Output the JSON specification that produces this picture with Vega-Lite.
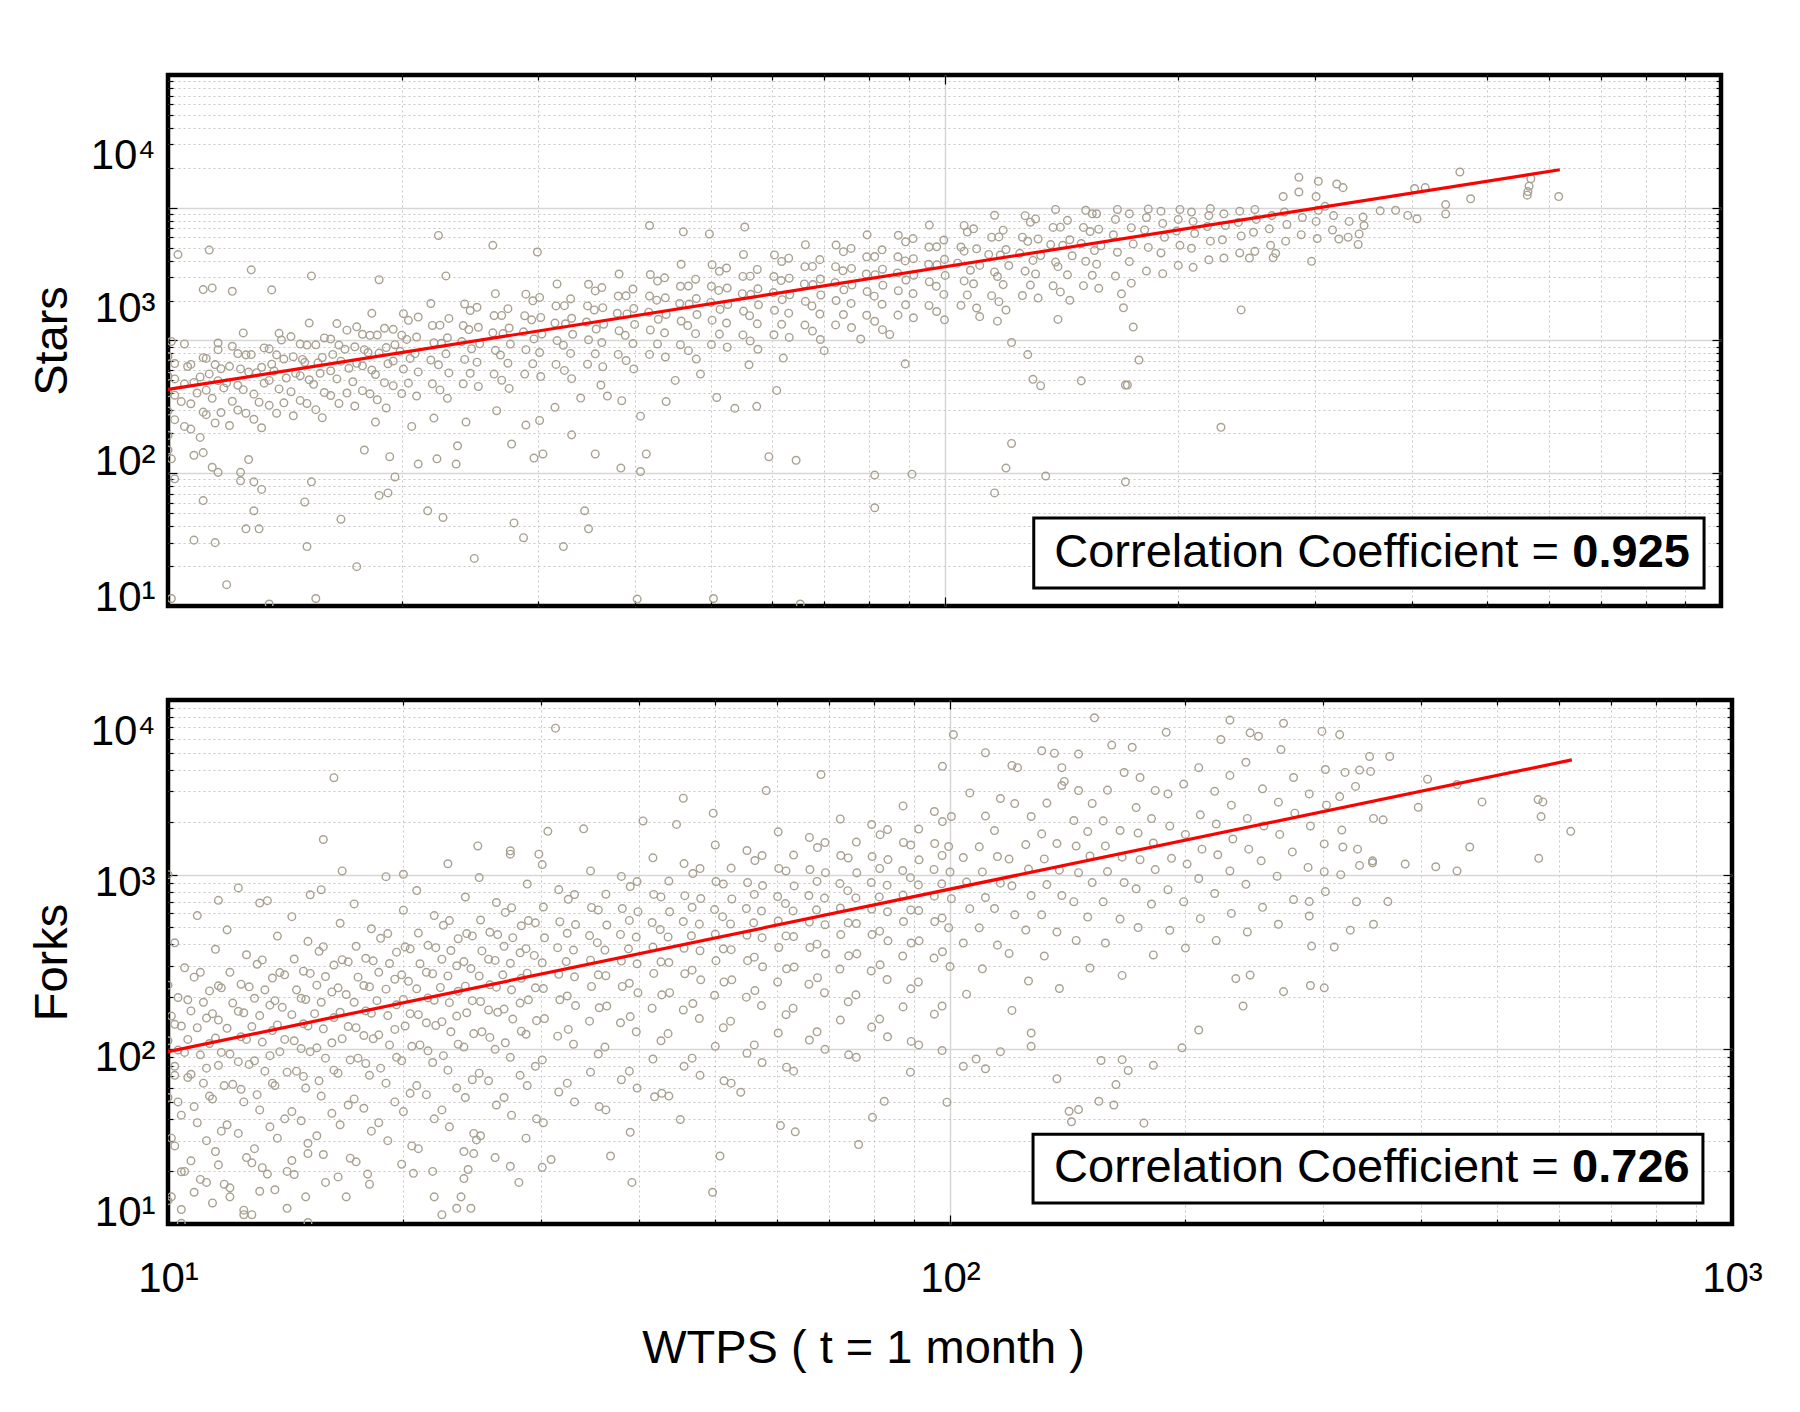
{
  "$schema": "https://vega.github.io/schema/vega-lite/v6.json",
  "background": "white",
  "padding": {"left": 25, "top": 72, "right": 5, "bottom": 5},
  "config": {
    "font": "Liberation Sans",
    "view": {"stroke": "black", "strokeWidth": 4.5},
    "axis": {"labelFontSize": 42, "titleFontSize": 47, "labelColor": "black", "titleColor": "black", "titleFontWeight": "normal", "domain": false}
  },
  "datasets": {
    "stars": [
      {"wtps":10.0,"stars":131},{"wtps":10.0,"stars":189},{"wtps":10.0,"stars":249},{"wtps":10.0,"stars":320},{"wtps":10.0,"stars":430},{"wtps":10.0,"stars":105},{"wtps":10.1,"stars":540},
      {"wtps":10.2,"stars":166},{"wtps":10.2,"stars":240},{"wtps":10.2,"stars":307},{"wtps":10.2,"stars":387},
      {"wtps":10.5,"stars":150},{"wtps":10.4,"stars":218},{"wtps":10.5,"stars":285},{"wtps":10.6,"stars":370},{"wtps":10.5,"stars":520},
      {"wtps":11.0,"stars":127},{"wtps":11.1,"stars":186},{"wtps":10.9,"stars":248},{"wtps":11.0,"stars":316},{"wtps":11.1,"stars":423},
      {"wtps":11.2,"stars":179},{"wtps":11.2,"stars":259},{"wtps":11.3,"stars":331},{"wtps":11.2,"stars":418},
      {"wtps":11.5,"stars":158},{"wtps":11.4,"stars":229},{"wtps":11.6,"stars":299},{"wtps":11.5,"stars":381},{"wtps":11.6,"stars":527},
      {"wtps":12.0,"stars":152},{"wtps":12.1,"stars":219},{"wtps":11.9,"stars":289},{"wtps":12.0,"stars":371},{"wtps":12.1,"stars":502},
      {"wtps":12.3,"stars":192},{"wtps":12.3,"stars":279},{"wtps":12.4,"stars":357},{"wtps":12.3,"stars":450},
      {"wtps":12.6,"stars":183},{"wtps":12.5,"stars":261},{"wtps":12.7,"stars":340},{"wtps":12.6,"stars":441},{"wtps":12.5,"stars":614},
      {"wtps":13.2,"stars":147},{"wtps":13.1,"stars":216},{"wtps":13.3,"stars":288},{"wtps":13.2,"stars":366},{"wtps":13.3,"stars":490},
      {"wtps":13.5,"stars":206},{"wtps":13.5,"stars":300},{"wtps":13.6,"stars":383},{"wtps":13.5,"stars":483},
      {"wtps":13.8,"stars":183},{"wtps":13.9,"stars":264},{"wtps":13.7,"stars":346},{"wtps":13.8,"stars":441},{"wtps":13.9,"stars":610},
      {"wtps":14.5,"stars":176},{"wtps":14.4,"stars":253},{"wtps":14.6,"stars":334},{"wtps":14.5,"stars":429},{"wtps":14.4,"stars":581},
      {"wtps":14.8,"stars":222},{"wtps":14.8,"stars":322},{"wtps":14.9,"stars":412},{"wtps":14.8,"stars":519},
      {"wtps":15.1,"stars":212},{"wtps":15.2,"stars":303},{"wtps":15.0,"stars":394},{"wtps":15.1,"stars":511},{"wtps":15.2,"stars":712},
      {"wtps":15.8,"stars":171},{"wtps":15.9,"stars":250},{"wtps":15.7,"stars":334},{"wtps":15.8,"stars":424},{"wtps":15.9,"stars":569},
      {"wtps":16.2,"stars":239},{"wtps":16.2,"stars":347},{"wtps":16.3,"stars":444},{"wtps":16.2,"stars":560},
      {"wtps":16.6,"stars":212},{"wtps":16.5,"stars":307},{"wtps":16.7,"stars":401},{"wtps":16.6,"stars":511},{"wtps":16.5,"stars":707},
      {"wtps":17.4,"stars":204},{"wtps":17.3,"stars":294},{"wtps":17.5,"stars":388},{"wtps":17.4,"stars":498},{"wtps":17.5,"stars":673},
      {"wtps":17.8,"stars":257},{"wtps":17.8,"stars":374},{"wtps":17.9,"stars":477},{"wtps":17.8,"stars":602},
      {"wtps":18.2,"stars":245},{"wtps":18.3,"stars":351},{"wtps":18.1,"stars":457},{"wtps":18.2,"stars":592},{"wtps":18.3,"stars":825},
      {"wtps":19.1,"stars":198},{"wtps":19.0,"stars":290},{"wtps":19.2,"stars":386},{"wtps":19.1,"stars":492},{"wtps":19.0,"stars":659},
      {"wtps":19.5,"stars":277},{"wtps":19.5,"stars":402},{"wtps":19.6,"stars":514},{"wtps":19.5,"stars":648},
      {"wtps":20.0,"stars":246},{"wtps":20.1,"stars":356},{"wtps":19.9,"stars":465},{"wtps":20.0,"stars":593},{"wtps":20.1,"stars":821},
      {"wtps":20.9,"stars":237},{"wtps":21.0,"stars":341},{"wtps":20.8,"stars":449},{"wtps":20.9,"stars":577},{"wtps":21.0,"stars":780},
      {"wtps":21.9,"stars":285},{"wtps":21.8,"stars":408},{"wtps":22.0,"stars":530},{"wtps":21.9,"stars":687},{"wtps":21.8,"stars":957},
      {"wtps":22.9,"stars":229},{"wtps":23.0,"stars":336},{"wtps":22.8,"stars":448},{"wtps":22.9,"stars":570},{"wtps":23.0,"stars":764},
      {"wtps":24.0,"stars":285},{"wtps":24.1,"stars":412},{"wtps":23.9,"stars":539},{"wtps":24.0,"stars":686},{"wtps":24.1,"stars":950},
      {"wtps":25.1,"stars":274},{"wtps":25.0,"stars":395},{"wtps":25.2,"stars":521},{"wtps":25.1,"stars":669},{"wtps":25.0,"stars":904},
      {"wtps":26.3,"stars":330},{"wtps":26.4,"stars":472},{"wtps":26.2,"stars":615},{"wtps":26.3,"stars":797},{"wtps":26.4,"stars":1110},
      {"wtps":27.5,"stars":266},{"wtps":27.4,"stars":389},{"wtps":27.6,"stars":519},{"wtps":27.5,"stars":661},{"wtps":27.4,"stars":885},
      {"wtps":28.8,"stars":330},{"wtps":28.9,"stars":477},{"wtps":28.7,"stars":624},{"wtps":28.8,"stars":796},{"wtps":28.9,"stars":1102},
      {"wtps":30.2,"stars":318},{"wtps":30.1,"stars":457},{"wtps":30.3,"stars":603},{"wtps":30.2,"stars":775},{"wtps":30.1,"stars":1048},
      {"wtps":31.6,"stars":382},{"wtps":31.7,"stars":547},{"wtps":31.5,"stars":712},{"wtps":31.6,"stars":923},{"wtps":31.7,"stars":1285},
      {"wtps":33.1,"stars":308},{"wtps":33.0,"stars":451},{"wtps":33.2,"stars":602},{"wtps":33.1,"stars":766},{"wtps":33.0,"stars":1026},
      {"wtps":34.7,"stars":383},{"wtps":34.8,"stars":554},{"wtps":34.6,"stars":724},{"wtps":34.7,"stars":923},{"wtps":34.8,"stars":1278},
      {"wtps":36.3,"stars":369},{"wtps":36.2,"stars":531},{"wtps":36.4,"stars":700},{"wtps":36.3,"stars":899},{"wtps":36.2,"stars":1216},
      {"wtps":38.0,"stars":444},{"wtps":38.1,"stars":635},{"wtps":37.9,"stars":826},{"wtps":38.0,"stars":1071},{"wtps":38.1,"stars":1492},
      {"wtps":39.8,"stars":357},{"wtps":39.7,"stars":523},{"wtps":39.9,"stars":698},{"wtps":39.8,"stars":888},{"wtps":39.7,"stars":1190},
      {"wtps":41.7,"stars":444},{"wtps":41.8,"stars":642},{"wtps":41.6,"stars":839},{"wtps":41.7,"stars":1070},{"wtps":41.8,"stars":1481},
      {"wtps":43.7,"stars":427},{"wtps":43.6,"stars":615},{"wtps":43.8,"stars":811},{"wtps":43.7,"stars":1042},{"wtps":43.6,"stars":1409},
      {"wtps":45.7,"stars":514},{"wtps":45.8,"stars":735},{"wtps":45.6,"stars":957},{"wtps":45.7,"stars":1240},{"wtps":45.8,"stars":1728},
      {"wtps":47.9,"stars":414},{"wtps":47.8,"stars":607},{"wtps":48.0,"stars":810},{"wtps":47.9,"stars":1030},{"wtps":47.8,"stars":1380},
      {"wtps":50.1,"stars":515},{"wtps":50.2,"stars":744},{"wtps":50.0,"stars":973},{"wtps":50.1,"stars":1240},{"wtps":50.2,"stars":1717},
      {"wtps":52.5,"stars":495},{"wtps":52.4,"stars":713},{"wtps":52.6,"stars":941},{"wtps":52.5,"stars":1208},{"wtps":52.4,"stars":1634},
      {"wtps":55.0,"stars":596},{"wtps":55.1,"stars":853},{"wtps":54.9,"stars":1110},{"wtps":55.0,"stars":1439},{"wtps":55.1,"stars":2005},
      {"wtps":57.5,"stars":480},{"wtps":57.4,"stars":704},{"wtps":57.6,"stars":938},{"wtps":57.5,"stars":1194},{"wtps":57.4,"stars":1599},
      {"wtps":60.3,"stars":597},{"wtps":60.4,"stars":863},{"wtps":60.2,"stars":1128},{"wtps":60.3,"stars":1438},{"wtps":60.4,"stars":1991},
      {"wtps":63.1,"stars":574},{"wtps":63.0,"stars":827},{"wtps":63.2,"stars":1091},{"wtps":63.1,"stars":1401},{"wtps":63.0,"stars":1894},
      {"wtps":66.1,"stars":691},{"wtps":66.2,"stars":988},{"wtps":66.0,"stars":1286},{"wtps":66.1,"stars":1667},{"wtps":66.2,"stars":2322},
      {"wtps":69.2,"stars":556},{"wtps":69.1,"stars":816},{"wtps":69.3,"stars":1088},{"wtps":69.2,"stars":1384},{"wtps":69.1,"stars":1854},
      {"wtps":72.4,"stars":693},{"wtps":72.5,"stars":1001},{"wtps":72.3,"stars":1309},{"wtps":72.4,"stars":1668},{"wtps":72.5,"stars":2309},
      {"wtps":75.9,"stars":666},{"wtps":75.8,"stars":958},{"wtps":76.0,"stars":1264},{"wtps":75.9,"stars":1624},{"wtps":75.8,"stars":2196},
      {"wtps":79.4,"stars":801},{"wtps":79.5,"stars":1146},{"wtps":79.3,"stars":1492},{"wtps":79.4,"stars":1933},{"wtps":79.5,"stars":2693},
      {"wtps":83.2,"stars":645},{"wtps":83.1,"stars":946},{"wtps":83.3,"stars":1261},{"wtps":83.2,"stars":1605},{"wtps":83.1,"stars":2150},
      {"wtps":87.1,"stars":803},{"wtps":87.2,"stars":1160},{"wtps":87.0,"stars":1517},{"wtps":87.1,"stars":1933},{"wtps":87.2,"stars":2677},
      {"wtps":91.2,"stars":772},{"wtps":91.1,"stars":1111},{"wtps":91.3,"stars":1466},{"wtps":91.2,"stars":1882},{"wtps":91.1,"stars":2546},
      {"wtps":95.5,"stars":929},{"wtps":95.6,"stars":1329},{"wtps":95.4,"stars":1729},{"wtps":95.5,"stars":2241},{"wtps":95.6,"stars":3122},
      {"wtps":100,"stars":748},{"wtps":99.8,"stars":1097},{"wtps":100.2,"stars":1462},{"wtps":100,"stars":1861},{"wtps":99.8,"stars":2493},
      {"wtps":105,"stars":931},{"wtps":106,"stars":1345},{"wtps":104,"stars":1758},{"wtps":105,"stars":2241},{"wtps":106,"stars":3103},
      {"wtps":110,"stars":894},{"wtps":109,"stars":1288},{"wtps":111,"stars":1700},{"wtps":110,"stars":2183},{"wtps":109,"stars":2952},
      {"wtps":115,"stars":1077},{"wtps":116,"stars":1541},{"wtps":114,"stars":2006},{"wtps":115,"stars":2600},{"wtps":116,"stars":3621},
      {"wtps":120,"stars":867},{"wtps":119,"stars":1272},{"wtps":121,"stars":1696},{"wtps":120,"stars":2158},{"wtps":119,"stars":2891},
      {"wtps":126,"stars":1079},{"wtps":127,"stars":1559},{"wtps":125,"stars":2039},{"wtps":126,"stars":2599},{"wtps":127,"stars":3598},
      {"wtps":132,"stars":1038},{"wtps":131,"stars":1494},{"wtps":133,"stars":1972},{"wtps":132,"stars":2532},{"wtps":131,"stars":3424},
      {"wtps":138,"stars":1249},{"wtps":139,"stars":1787},{"wtps":137,"stars":2325},{"wtps":138,"stars":3014},{"wtps":139,"stars":3950},
      {"wtps":145,"stars":1005},{"wtps":144,"stars":1474},{"wtps":146,"stars":1966},{"wtps":145,"stars":2502},{"wtps":144,"stars":3351},
      {"wtps":151,"stars":1252},{"wtps":152,"stars":1808},{"wtps":150,"stars":2364},{"wtps":151,"stars":3013},{"wtps":152,"stars":3900},
      {"wtps":158,"stars":1203},{"wtps":157,"stars":1732},{"wtps":159,"stars":2285},{"wtps":158,"stars":2934},{"wtps":157,"stars":3700},
      {"wtps":166,"stars":1448},{"wtps":167,"stars":2072},{"wtps":165,"stars":2696},{"wtps":166,"stars":3400},{"wtps":167,"stars":3950},
      {"wtps":174,"stars":1300},{"wtps":173,"stars":1800},{"wtps":175,"stars":2350},{"wtps":174,"stars":3000},{"wtps":173,"stars":3700},
      {"wtps":182,"stars":1560},{"wtps":183,"stars":2230},{"wtps":181,"stars":2900},{"wtps":182,"stars":3500},{"wtps":183,"stars":3980},
      {"wtps":191,"stars":1500},{"wtps":190,"stars":2050},{"wtps":192,"stars":2600},{"wtps":191,"stars":3200},{"wtps":190,"stars":3850},
      {"wtps":200,"stars":1700},{"wtps":201,"stars":2300},{"wtps":199,"stars":2850},{"wtps":200,"stars":3400},{"wtps":201,"stars":3950},
      {"wtps":209,"stars":1650},{"wtps":208,"stars":2200},{"wtps":210,"stars":2750},{"wtps":209,"stars":3300},{"wtps":208,"stars":3800},
      {"wtps":219,"stars":1850},{"wtps":220,"stars":2450},{"wtps":218,"stars":3050},{"wtps":219,"stars":3600},{"wtps":220,"stars":4000},
      {"wtps":229,"stars":1900},{"wtps":228,"stars":2500},{"wtps":230,"stars":3100},{"wtps":229,"stars":3700},
      {"wtps":240,"stars":2050},{"wtps":241,"stars":2650},{"wtps":239,"stars":3250},{"wtps":240,"stars":3850},
      {"wtps":251,"stars":2100},{"wtps":250,"stars":2800},{"wtps":252,"stars":3400},{"wtps":251,"stars":3950},
      {"wtps":263,"stars":2300},{"wtps":262,"stars":2950},{"wtps":264,"stars":3600},
      {"wtps":275,"stars":2450},{"wtps":276,"stars":3150},{"wtps":274,"stars":3800},
      {"wtps":288,"stars":2700},{"wtps":289,"stars":3500},
      {"wtps":302,"stars":2550},{"wtps":301,"stars":3300},{"wtps":303,"stars":3900},
      {"wtps":316,"stars":2900},{"wtps":317,"stars":3600},
      {"wtps":331,"stars":2600},{"wtps":332,"stars":3300},
      {"wtps":347,"stars":3100},
      {"wtps":10.7,"stars":144},{"wtps":10.7,"stars":211},{"wtps":10.8,"stars":291},{"wtps":10.7,"stars":382},
      {"wtps":11.7,"stars":185},{"wtps":11.8,"stars":268},{"wtps":11.7,"stars":358},{"wtps":11.6,"stars":477},
      {"wtps":12.9,"stars":167},{"wtps":12.9,"stars":244},{"wtps":13.0,"stars":337},{"wtps":12.8,"stars":443},
      {"wtps":14.1,"stars":214},{"wtps":14.2,"stars":311},{"wtps":14.1,"stars":414},{"wtps":14.0,"stars":552},
      {"wtps":15.5,"stars":193},{"wtps":15.4,"stars":283},{"wtps":15.6,"stars":391},{"wtps":15.5,"stars":513},
      {"wtps":17.0,"stars":248},{"wtps":17.1,"stars":360},{"wtps":16.9,"stars":480},{"wtps":17.0,"stars":640},
      {"wtps":18.6,"stars":224},{"wtps":18.5,"stars":328},{"wtps":18.7,"stars":453},{"wtps":18.6,"stars":595},
      {"wtps":20.4,"stars":288},{"wtps":20.5,"stars":418},{"wtps":20.3,"stars":557},{"wtps":20.4,"stars":742},
      {"wtps":22.4,"stars":260},{"wtps":22.3,"stars":380},{"wtps":22.5,"stars":525},{"wtps":22.4,"stars":690},
      {"wtps":24.5,"stars":334},{"wtps":24.6,"stars":484},{"wtps":24.4,"stars":646},{"wtps":24.5,"stars":861},
      {"wtps":26.9,"stars":301},{"wtps":26.8,"stars":440},{"wtps":27.0,"stars":608},{"wtps":26.9,"stars":799},
      {"wtps":29.5,"stars":386},{"wtps":29.6,"stars":561},{"wtps":29.4,"stars":748},{"wtps":29.5,"stars":997},
      {"wtps":32.4,"stars":349},{"wtps":32.3,"stars":510},{"wtps":32.5,"stars":705},{"wtps":32.4,"stars":926},
      {"wtps":35.5,"stars":448},{"wtps":35.6,"stars":651},{"wtps":35.4,"stars":868},{"wtps":35.5,"stars":1157},
      {"wtps":38.9,"stars":405},{"wtps":38.8,"stars":592},{"wtps":39.0,"stars":818},{"wtps":38.9,"stars":1075},
      {"wtps":42.7,"stars":520},{"wtps":42.8,"stars":754},{"wtps":42.6,"stars":1006},{"wtps":42.7,"stars":1341},
      {"wtps":46.8,"stars":470},{"wtps":46.7,"stars":686},{"wtps":46.9,"stars":948},{"wtps":46.8,"stars":1246},
      {"wtps":51.3,"stars":603},{"wtps":51.4,"stars":875},{"wtps":51.2,"stars":1166},{"wtps":51.3,"stars":1555},
      {"wtps":56.2,"stars":544},{"wtps":56.1,"stars":796},{"wtps":56.3,"stars":1099},{"wtps":56.2,"stars":1445},
      {"wtps":61.7,"stars":699},{"wtps":61.8,"stars":1014},{"wtps":61.6,"stars":1352},{"wtps":61.7,"stars":1803},
      {"wtps":67.6,"stars":631},{"wtps":67.5,"stars":922},{"wtps":67.7,"stars":1274},{"wtps":67.6,"stars":1674},
      {"wtps":74.1,"stars":810},{"wtps":74.2,"stars":1176},{"wtps":74.0,"stars":1568},{"wtps":74.1,"stars":2091},
      {"wtps":81.3,"stars":732},{"wtps":81.2,"stars":1069},{"wtps":81.4,"stars":1477},{"wtps":81.3,"stars":1942},
      {"wtps":89.1,"stars":939},{"wtps":89.2,"stars":1364},{"wtps":89.0,"stars":1818},{"wtps":89.1,"stars":2424},
      {"wtps":97.7,"stars":848},{"wtps":97.6,"stars":1240},{"wtps":97.8,"stars":1713},{"wtps":97.7,"stars":2251},
      {"wtps":107,"stars":1089},{"wtps":108,"stars":1580},{"wtps":106,"stars":2107},{"wtps":107,"stars":2810},
      {"wtps":117.5,"stars":984},{"wtps":117,"stars":1438},{"wtps":118,"stars":1987},{"wtps":117.5,"stars":2611},
      {"wtps":129,"stars":1263},{"wtps":130,"stars":1833},{"wtps":128,"stars":2444},{"wtps":129,"stars":3259},
      {"wtps":141,"stars":1140},{"wtps":140,"stars":1667},{"wtps":142,"stars":2303},{"wtps":141,"stars":3026},
      {"wtps":155,"stars":1464},{"wtps":156,"stars":2125},{"wtps":154,"stars":2833},{"wtps":155,"stars":3700},
      {"wtps":10.3,"stars":2000},{"wtps":11.3,"stars":2140},{"wtps":22.3,"stars":2670},{"wtps":26.2,"stars":2300},{"wtps":29.9,"stars":2080},{"wtps":41.7,"stars":3100},{"wtps":46.1,"stars":2820},{"wtps":49.8,"stars":2730},{"wtps":55.3,"stars":3030},{"wtps":12.8,"stars":1590},{"wtps":11.1,"stars":1180},{"wtps":11.4,"stars":1210},{"wtps":12.1,"stars":1150},{"wtps":15.3,"stars":1450},{"wtps":18.7,"stars":1370},{"wtps":22.8,"stars":1450},{"wtps":13.6,"stars":1175},
      {"wtps":10.1,"stars":92},{"wtps":10.2,"stars":68},{"wtps":10.8,"stars":97},{"wtps":11.1,"stars":101},{"wtps":11.4,"stars":81},{"wtps":11.6,"stars":75},{"wtps":12.4,"stars":75},{"wtps":12.4,"stars":66},{"wtps":12.7,"stars":91},{"wtps":12.9,"stars":65},{"wtps":13.2,"stars":58},{"wtps":11.1,"stars":49},{"wtps":12.9,"stars":42},{"wtps":10.8,"stars":27},{"wtps":11.5,"stars":26},{"wtps":12.6,"stars":32},{"wtps":13.1,"stars":32},{"wtps":11.9,"stars":13.8},{"wtps":10.1,"stars":11.2},{"wtps":13.5,"stars":10.3},{"wtps":15.5,"stars":11.2},{"wtps":15.3,"stars":65},{"wtps":15.0,"stars":48},{"wtps":15.1,"stars":24.5},{"wtps":16.7,"stars":37},{"wtps":17.5,"stars":18.1},{"wtps":17.9,"stars":105},{"wtps":19.3,"stars":95},{"wtps":19.6,"stars":70},{"wtps":18.7,"stars":53},{"wtps":19.2,"stars":55},{"wtps":21.0,"stars":85},{"wtps":21.6,"stars":42},{"wtps":22.2,"stars":92},{"wtps":22.6,"stars":38},{"wtps":23.5,"stars":85},{"wtps":23.6,"stars":112},{"wtps":24.8,"stars":20.5},{"wtps":27.7,"stars":115},{"wtps":27.9,"stars":35},{"wtps":28.7,"stars":28},{"wtps":29.6,"stars":93},{"wtps":30.4,"stars":99},{"wtps":32.3,"stars":24.5},{"wtps":33.1,"stars":132},{"wtps":34.4,"stars":42},{"wtps":34.8,"stars":32},{"wtps":35.5,"stars":99},{"wtps":38.3,"stars":80},{"wtps":40.6,"stars":76},{"wtps":41.3,"stars":99},{"wtps":40.2,"stars":11.1},{"wtps":50.4,"stars":11.2},{"wtps":65.2,"stars":10.3},{"wtps":59.4,"stars":95},{"wtps":64.4,"stars":90},{"wtps":81.3,"stars":72},{"wtps":81.3,"stars":44},{"wtps":50.9,"stars":232},{"wtps":53.7,"stars":197},{"wtps":57.3,"stars":203},{"wtps":60.8,"stars":258},{"wtps":43.8,"stars":218},{"wtps":38.4,"stars":221},{"wtps":40.6,"stars":175},{"wtps":28.9,"stars":153},{"wtps":30.1,"stars":164},{"wtps":36.1,"stars":280},{"wtps":36.8,"stars":237},
      {"wtps":18.5,"stars":160},{"wtps":20.6,"stars":150},{"wtps":22.0,"stars":170},{"wtps":24.2,"stars":160},{"wtps":26.5,"stars":190},{"wtps":31.5,"stars":200},{"wtps":34.0,"stars":230},{"wtps":45.0,"stars":300},{"wtps":48.5,"stars":330},{"wtps":56,"stars":380},{"wtps":62,"stars":420},{"wtps":70,"stars":470},{"wtps":78,"stars":560},{"wtps":85,"stars":600},
      {"wtps":89.0,"stars":385},{"wtps":90.8,"stars":73},{"wtps":111,"stars":785},{"wtps":117,"stars":733},{"wtps":140,"stars":753},{"wtps":122,"stars":531},{"wtps":128,"stars":443},{"wtps":130,"stars":305},{"wtps":133,"stars":277},{"wtps":150,"stars":298},{"wtps":171,"stars":280},{"wtps":172,"stars":280},{"wtps":178,"stars":408},{"wtps":175,"stars":671},{"wtps":170,"stars":897},{"wtps":169,"stars":1107},{"wtps":241,"stars":869},{"wtps":297,"stars":1807},{"wtps":227,"stars":148},{"wtps":122,"stars":116},{"wtps":120,"stars":80},{"wtps":135,"stars":71},{"wtps":116,"stars":55},{"wtps":171,"stars":65},
      {"wtps":286,"stars":6410},{"wtps":303,"stars":6040},{"wtps":320,"stars":5800},{"wtps":326,"stars":5490},{"wtps":273,"stars":4800},{"wtps":286,"stars":5140},{"wtps":301,"stars":4800},{"wtps":309,"stars":4140},{"wtps":341,"stars":2330},{"wtps":322,"stars":2530},{"wtps":342,"stars":2730},{"wtps":346,"stars":3520},{"wtps":364,"stars":3870},{"wtps":381,"stars":3900},{"wtps":395,"stars":3610},{"wtps":406,"stars":3430},{"wtps":403,"stars":5420},{"wtps":416,"stars":5490},{"wtps":461,"stars":6950},{"wtps":442,"stars":4250},{"wtps":442,"stars":3690},{"wtps":476,"stars":4640},{"wtps":569,"stars":6280},{"wtps":566,"stars":5610},{"wtps":564,"stars":5170},{"wtps":563,"stars":4900},{"wtps":618,"stars":4800},{"wtps":265,"stars":1910},{"wtps":247,"stars":1900},{"wtps":267,"stars":2040}
    ],
    "forks": [
      {"wtps":10.0,"forks":13.6},{"wtps":10.1,"forks":31},{"wtps":10.0,"forks":53},{"wtps":10.2,"forks":80},{"wtps":10.0,"forks":112},{"wtps":10.1,"forks":155},{"wtps":10.0,"forks":233},{"wtps":10.2,"forks":407},
      {"wtps":10.2,"forks":28},{"wtps":10.3,"forks":50},{"wtps":10.2,"forks":71},{"wtps":10.3,"forks":99},{"wtps":10.2,"forks":139},{"wtps":10.3,"forks":198},
      {"wtps":10.5,"forks":20},{"wtps":10.4,"forks":42},{"wtps":10.6,"forks":69},{"wtps":10.5,"forks":96},{"wtps":10.4,"forks":136},{"wtps":10.6,"forks":192},{"wtps":10.5,"forks":293},{"wtps":10.4,"forks":10.1},
      {"wtps":11.0,"forks":18},{"wtps":10.9,"forks":38},{"wtps":11.1,"forks":64},{"wtps":11.0,"forks":93},{"wtps":10.9,"forks":133},{"wtps":11.1,"forks":186},{"wtps":11.0,"forks":276},{"wtps":10.9,"forks":583},
      {"wtps":11.2,"forks":30},{"wtps":11.3,"forks":54},{"wtps":11.2,"forks":78},{"wtps":11.3,"forks":108},{"wtps":11.2,"forks":151},{"wtps":11.3,"forks":216},
      {"wtps":11.5,"forks":26},{"wtps":11.4,"forks":52},{"wtps":11.6,"forks":81},{"wtps":11.5,"forks":116},{"wtps":11.4,"forks":160},{"wtps":11.6,"forks":231},{"wtps":11.5,"forks":374},{"wtps":11.4,"forks":13.2},
      {"wtps":12.0,"forks":16.1},{"wtps":11.9,"forks":37},{"wtps":12.1,"forks":63},{"wtps":12.0,"forks":94},{"wtps":11.9,"forks":132},{"wtps":12.1,"forks":184},{"wtps":12.0,"forks":276},{"wtps":11.9,"forks":483},
      {"wtps":12.3,"forks":33},{"wtps":12.4,"forks":59},{"wtps":12.3,"forks":85},{"wtps":12.4,"forks":118},{"wtps":12.3,"forks":165},{"wtps":12.4,"forks":236},
      {"wtps":12.6,"forks":24},{"wtps":12.5,"forks":50},{"wtps":12.7,"forks":82},{"wtps":12.6,"forks":114},{"wtps":12.5,"forks":162},{"wtps":12.7,"forks":228},{"wtps":12.6,"forks":348},{"wtps":12.5,"forks":12},
      {"wtps":13.2,"forks":21},{"wtps":13.1,"forks":45},{"wtps":13.3,"forks":75},{"wtps":13.2,"forks":110},{"wtps":13.1,"forks":156},{"wtps":13.3,"forks":219},{"wtps":13.2,"forks":325},{"wtps":13.1,"forks":688},
      {"wtps":13.5,"forks":36},{"wtps":13.6,"forks":64},{"wtps":13.5,"forks":92},{"wtps":13.6,"forks":128},{"wtps":13.5,"forks":179},{"wtps":13.6,"forks":256},
      {"wtps":13.8,"forks":31},{"wtps":13.7,"forks":62},{"wtps":13.9,"forks":97},{"wtps":13.8,"forks":138},{"wtps":13.7,"forks":190},{"wtps":13.9,"forks":275},{"wtps":13.8,"forks":445},{"wtps":13.7,"forks":15.7},
      {"wtps":14.5,"forks":19.2},{"wtps":14.4,"forks":44},{"wtps":14.6,"forks":75},{"wtps":14.5,"forks":112},{"wtps":14.4,"forks":158},{"wtps":14.6,"forks":219},{"wtps":14.5,"forks":329},{"wtps":14.4,"forks":575},
      {"wtps":14.8,"forks":39},{"wtps":14.9,"forks":70},{"wtps":14.8,"forks":101},{"wtps":14.9,"forks":140},{"wtps":14.8,"forks":196},{"wtps":14.9,"forks":280},
      {"wtps":15.1,"forks":29},{"wtps":15.0,"forks":60},{"wtps":15.2,"forks":97},{"wtps":15.1,"forks":136},{"wtps":15.0,"forks":193},{"wtps":15.2,"forks":272},{"wtps":15.1,"forks":415},{"wtps":15.0,"forks":14.3},
      {"wtps":15.8,"forks":25},{"wtps":15.7,"forks":54},{"wtps":15.9,"forks":89},{"wtps":15.8,"forks":131},{"wtps":15.7,"forks":186},{"wtps":15.9,"forks":261},{"wtps":15.8,"forks":387},{"wtps":15.7,"forks":820},
      {"wtps":16.2,"forks":43},{"wtps":16.3,"forks":76},{"wtps":16.2,"forks":109},{"wtps":16.3,"forks":152},{"wtps":16.2,"forks":213},{"wtps":16.3,"forks":304},
      {"wtps":16.6,"forks":37},{"wtps":16.5,"forks":73},{"wtps":16.7,"forks":115},{"wtps":16.6,"forks":163},{"wtps":16.5,"forks":225},{"wtps":16.7,"forks":326},{"wtps":16.6,"forks":527},{"wtps":16.5,"forks":18.6},
      {"wtps":17.4,"forks":22.7},{"wtps":17.3,"forks":52},{"wtps":17.5,"forks":89},{"wtps":17.4,"forks":133},{"wtps":17.3,"forks":186},{"wtps":17.5,"forks":259},{"wtps":17.4,"forks":389},{"wtps":17.3,"forks":680},
      {"wtps":17.8,"forks":46},{"wtps":17.9,"forks":83},{"wtps":17.8,"forks":120},{"wtps":17.9,"forks":166},{"wtps":17.8,"forks":232},{"wtps":17.9,"forks":332},
      {"wtps":18.2,"forks":34},{"wtps":18.1,"forks":71},{"wtps":18.3,"forks":115},{"wtps":18.2,"forks":161},{"wtps":18.1,"forks":228},{"wtps":18.3,"forks":321},{"wtps":18.2,"forks":490},{"wtps":18.1,"forks":16.9},
      {"wtps":19.1,"forks":30},{"wtps":19.0,"forks":64},{"wtps":19.2,"forks":106},{"wtps":19.1,"forks":156},{"wtps":19.0,"forks":221},{"wtps":19.2,"forks":310},{"wtps":19.1,"forks":460},{"wtps":19.0,"forks":974},
      {"wtps":19.5,"forks":50},{"wtps":19.6,"forks":90},{"wtps":19.5,"forks":130},{"wtps":19.6,"forks":180},{"wtps":19.5,"forks":252},{"wtps":19.6,"forks":360},
      {"wtps":20.0,"forks":44},{"wtps":19.9,"forks":86},{"wtps":20.1,"forks":136},{"wtps":20.0,"forks":193},{"wtps":19.9,"forks":267},{"wtps":20.1,"forks":386},{"wtps":20.0,"forks":626},{"wtps":19.9,"forks":22},
      {"wtps":20.9,"forks":27},{"wtps":20.8,"forks":62},{"wtps":21.0,"forks":106},{"wtps":20.9,"forks":158},{"wtps":20.8,"forks":222},{"wtps":21.0,"forks":309},{"wtps":20.9,"forks":463},{"wtps":20.8,"forks":811},
      {"wtps":21.4,"forks":55},{"wtps":21.5,"forks":98},{"wtps":21.4,"forks":142},{"wtps":21.5,"forks":197},{"wtps":21.4,"forks":276},{"wtps":21.5,"forks":394},
      {"wtps":21.9,"forks":40},{"wtps":21.8,"forks":84},{"wtps":22.0,"forks":137},{"wtps":21.9,"forks":191},{"wtps":21.8,"forks":271},{"wtps":22.0,"forks":382},{"wtps":21.9,"forks":583},{"wtps":21.8,"forks":20},
      {"wtps":22.9,"forks":36},{"wtps":22.8,"forks":76},{"wtps":23.0,"forks":126},{"wtps":22.9,"forks":185},{"wtps":22.8,"forks":263},{"wtps":23.0,"forks":368},{"wtps":22.9,"forks":546},{"wtps":22.8,"forks":1155},
      {"wtps":23.4,"forks":60},{"wtps":23.5,"forks":107},{"wtps":23.4,"forks":155},{"wtps":23.5,"forks":215},{"wtps":23.4,"forks":301},{"wtps":23.5,"forks":430},
      {"wtps":24.0,"forks":53},{"wtps":23.9,"forks":103},{"wtps":24.1,"forks":162},{"wtps":24.0,"forks":230},{"wtps":23.9,"forks":318},{"wtps":24.1,"forks":460},{"wtps":24.0,"forks":745},{"wtps":23.9,"forks":26},
      {"wtps":25.1,"forks":32},{"wtps":25.0,"forks":73},{"wtps":25.2,"forks":126},{"wtps":25.1,"forks":188},{"wtps":25.0,"forks":263},{"wtps":25.2,"forks":366},{"wtps":25.1,"forks":550},{"wtps":25.0,"forks":962},
      {"wtps":25.7,"forks":66},{"wtps":25.8,"forks":117},{"wtps":25.7,"forks":168},{"wtps":25.8,"forks":234},{"wtps":25.7,"forks":328},{"wtps":25.8,"forks":468},
      {"wtps":26.3,"forks":48},{"wtps":26.2,"forks":100},{"wtps":26.4,"forks":163},{"wtps":26.3,"forks":227},{"wtps":26.2,"forks":323},{"wtps":26.4,"forks":454},{"wtps":26.3,"forks":693},{"wtps":26.2,"forks":24},
      {"wtps":27.5,"forks":42},{"wtps":27.4,"forks":90},{"wtps":27.6,"forks":149},{"wtps":27.5,"forks":219},{"wtps":27.4,"forks":311},{"wtps":27.6,"forks":436},{"wtps":27.5,"forks":647},{"wtps":27.4,"forks":1370},
      {"wtps":28.2,"forks":71},{"wtps":28.3,"forks":127},{"wtps":28.2,"forks":184},{"wtps":28.3,"forks":255},{"wtps":28.2,"forks":357},{"wtps":28.3,"forks":510},
      {"wtps":28.8,"forks":62},{"wtps":28.7,"forks":122},{"wtps":28.9,"forks":192},{"wtps":28.8,"forks":273},{"wtps":28.7,"forks":377},{"wtps":28.9,"forks":546},{"wtps":28.8,"forks":884},{"wtps":28.7,"forks":31},
      {"wtps":30.2,"forks":38},{"wtps":30.1,"forks":87},{"wtps":30.3,"forks":150},{"wtps":30.2,"forks":223},{"wtps":30.1,"forks":313},{"wtps":30.3,"forks":435},{"wtps":30.2,"forks":653},{"wtps":30.1,"forks":1142},
      {"wtps":31.6,"forks":57},{"wtps":31.5,"forks":119},{"wtps":31.7,"forks":192},{"wtps":31.6,"forks":269},{"wtps":31.5,"forks":382},{"wtps":31.7,"forks":538},{"wtps":31.6,"forks":821},
      {"wtps":33.1,"forks":50},{"wtps":33.0,"forks":107},{"wtps":33.2,"forks":178},{"wtps":33.1,"forks":260},{"wtps":33.0,"forks":370},{"wtps":33.2,"forks":518},{"wtps":33.1,"forks":770},
      {"wtps":34.7,"forks":74},{"wtps":34.6,"forks":145},{"wtps":34.8,"forks":229},{"wtps":34.7,"forks":324},{"wtps":34.6,"forks":448},{"wtps":34.8,"forks":649},{"wtps":34.7,"forks":1051},
      {"wtps":36.3,"forks":45},{"wtps":36.2,"forks":103},{"wtps":36.4,"forks":177},{"wtps":36.3,"forks":264},{"wtps":36.2,"forks":370},{"wtps":36.4,"forks":515},{"wtps":36.3,"forks":773},
      {"wtps":38.0,"forks":67},{"wtps":37.9,"forks":142},{"wtps":38.1,"forks":229},{"wtps":38.0,"forks":320},{"wtps":37.9,"forks":455},{"wtps":38.1,"forks":640},{"wtps":38.0,"forks":977},
      {"wtps":39.8,"forks":60},{"wtps":39.7,"forks":126},{"wtps":39.9,"forks":211},{"wtps":39.8,"forks":309},{"wtps":39.7,"forks":439},{"wtps":39.9,"forks":614},{"wtps":39.8,"forks":913},
      {"wtps":41.7,"forks":88},{"wtps":41.6,"forks":172},{"wtps":41.8,"forks":272},{"wtps":41.7,"forks":385},{"wtps":41.6,"forks":532},{"wtps":41.8,"forks":771},{"wtps":41.7,"forks":1248},
      {"wtps":43.7,"forks":54},{"wtps":43.6,"forks":123},{"wtps":43.8,"forks":211},{"wtps":43.7,"forks":314},{"wtps":43.6,"forks":440},{"wtps":43.8,"forks":613},{"wtps":43.7,"forks":919},
      {"wtps":45.7,"forks":80},{"wtps":45.6,"forks":168},{"wtps":45.8,"forks":271},{"wtps":45.7,"forks":379},{"wtps":45.6,"forks":539},{"wtps":45.8,"forks":758},{"wtps":45.7,"forks":1157},
      {"wtps":47.9,"forks":71},{"wtps":47.8,"forks":150},{"wtps":48.0,"forks":250},{"wtps":47.9,"forks":367},{"wtps":47.8,"forks":521},{"wtps":48.0,"forks":730},{"wtps":47.9,"forks":1084},
      {"wtps":50.1,"forks":104},{"wtps":50.0,"forks":204},{"wtps":50.2,"forks":322},{"wtps":50.1,"forks":457},{"wtps":50.0,"forks":631},{"wtps":50.2,"forks":914},{"wtps":50.1,"forks":1479},
      {"wtps":52.5,"forks":64},{"wtps":52.4,"forks":145},{"wtps":52.6,"forks":250},{"wtps":52.5,"forks":372},{"wtps":52.4,"forks":522},{"wtps":52.6,"forks":726},{"wtps":52.5,"forks":1090},
      {"wtps":55.0,"forks":95},{"wtps":54.9,"forks":199},{"wtps":55.1,"forks":322},{"wtps":55.0,"forks":450},{"wtps":54.9,"forks":640},{"wtps":55.1,"forks":901},{"wtps":55.0,"forks":1375},
      {"wtps":57.5,"forks":84},{"wtps":57.4,"forks":178},{"wtps":57.6,"forks":297},{"wtps":57.5,"forks":436},{"wtps":57.4,"forks":619},{"wtps":57.6,"forks":866},{"wtps":57.5,"forks":1287},
      {"wtps":60.3,"forks":124},{"wtps":60.2,"forks":243},{"wtps":60.4,"forks":383},{"wtps":60.3,"forks":543},{"wtps":60.2,"forks":750},{"wtps":60.4,"forks":1086},{"wtps":60.3,"forks":1758},
      {"wtps":63.1,"forks":75},{"wtps":63.0,"forks":172},{"wtps":63.2,"forks":296},{"wtps":63.1,"forks":442},{"wtps":63.0,"forks":620},{"wtps":63.2,"forks":862},{"wtps":63.1,"forks":1294},
      {"wtps":66.1,"forks":113},{"wtps":66.0,"forks":236},{"wtps":66.2,"forks":383},{"wtps":66.1,"forks":535},{"wtps":66.0,"forks":760},{"wtps":66.2,"forks":1070},{"wtps":66.1,"forks":1633},
      {"wtps":69.2,"forks":100},{"wtps":69.1,"forks":211},{"wtps":69.3,"forks":352},{"wtps":69.2,"forks":517},{"wtps":69.1,"forks":734},{"wtps":69.3,"forks":1027},{"wtps":69.2,"forks":1526},
      {"wtps":72.4,"forks":147},{"wtps":72.3,"forks":288},{"wtps":72.5,"forks":454},{"wtps":72.4,"forks":644},{"wtps":72.3,"forks":889},{"wtps":72.5,"forks":1287},{"wtps":72.4,"forks":2084},
      {"wtps":75.9,"forks":90},{"wtps":75.8,"forks":205},{"wtps":76.0,"forks":352},{"wtps":75.9,"forks":525},{"wtps":75.8,"forks":736},{"wtps":76.0,"forks":1024},{"wtps":75.9,"forks":1536},
      {"wtps":79.4,"forks":134},{"wtps":79.3,"forks":281},{"wtps":79.5,"forks":454},{"wtps":79.4,"forks":635},{"wtps":79.3,"forks":902},{"wtps":79.5,"forks":1269},{"wtps":79.4,"forks":1937},
      {"wtps":83.2,"forks":118},{"wtps":83.1,"forks":251},{"wtps":83.3,"forks":418},{"wtps":83.2,"forks":613},{"wtps":83.1,"forks":871},{"wtps":83.3,"forks":1220},{"wtps":83.2,"forks":1812},
      {"wtps":87.1,"forks":175},{"wtps":87.0,"forks":342},{"wtps":87.2,"forks":539},{"wtps":87.1,"forks":764},{"wtps":87.0,"forks":1056},{"wtps":87.2,"forks":1529},{"wtps":87.1,"forks":2475},
      {"wtps":91.2,"forks":106},{"wtps":91.1,"forks":243},{"wtps":91.3,"forks":418},{"wtps":91.2,"forks":623},{"wtps":91.1,"forks":874},{"wtps":91.3,"forks":1216},{"wtps":91.2,"forks":1824},
      {"wtps":95.5,"forks":159},{"wtps":95.4,"forks":333},{"wtps":95.6,"forks":539},{"wtps":95.5,"forks":753},{"wtps":95.4,"forks":1071},{"wtps":95.6,"forks":1507},{"wtps":95.5,"forks":2300},
      {"wtps":100,"forks":298},{"wtps":99.6,"forks":497},{"wtps":100.4,"forks":729},{"wtps":100,"forks":1035},{"wtps":99.6,"forks":1449},{"wtps":100.4,"forks":2153},
      {"wtps":105,"forks":207},{"wtps":104,"forks":406},{"wtps":106,"forks":639},{"wtps":105,"forks":907},{"wtps":104,"forks":1253},{"wtps":106,"forks":2938},
      {"wtps":110,"forks":289},{"wtps":109,"forks":496},{"wtps":111,"forks":740},{"wtps":110,"forks":1037},{"wtps":109,"forks":1443},{"wtps":111,"forks":2165},
      {"wtps":115,"forks":395},{"wtps":114,"forks":640},{"wtps":116,"forks":894},{"wtps":115,"forks":1270},{"wtps":114,"forks":1788},{"wtps":116,"forks":2729},
      {"wtps":120,"forks":167},{"wtps":119,"forks":354},{"wtps":121,"forks":589},{"wtps":120,"forks":864},{"wtps":119,"forks":1228},{"wtps":121,"forks":2553},
      {"wtps":126,"forks":246},{"wtps":125,"forks":482},{"wtps":127,"forks":759},{"wtps":126,"forks":1076},{"wtps":125,"forks":1486},{"wtps":127,"forks":2153},
      {"wtps":132,"forks":342},{"wtps":131,"forks":589},{"wtps":133,"forks":877},{"wtps":132,"forks":1231},{"wtps":131,"forks":1712},{"wtps":133,"forks":2568},
      {"wtps":138,"forks":223},{"wtps":137,"forks":469},{"wtps":139,"forks":760},{"wtps":138,"forks":1061},{"wtps":137,"forks":1508},{"wtps":139,"forks":3239},
      {"wtps":145,"forks":420},{"wtps":144,"forks":700},{"wtps":146,"forks":1026},{"wtps":145,"forks":1458},{"wtps":144,"forks":2041},{"wtps":146,"forks":3032},
      {"wtps":151,"forks":292},{"wtps":150,"forks":572},{"wtps":152,"forks":901},{"wtps":151,"forks":1278},{"wtps":150,"forks":1765},{"wtps":152,"forks":2556},
      {"wtps":158,"forks":406},{"wtps":157,"forks":699},{"wtps":159,"forks":1041},{"wtps":158,"forks":1461},{"wtps":157,"forks":2032},{"wtps":159,"forks":3048},
      {"wtps":166,"forks":265},{"wtps":165,"forks":557},{"wtps":167,"forks":902},{"wtps":166,"forks":1260},{"wtps":165,"forks":1790},{"wtps":167,"forks":3845},
      {"wtps":174,"forks":498},{"wtps":173,"forks":830},{"wtps":175,"forks":1218},{"wtps":174,"forks":1730},{"wtps":173,"forks":2422},{"wtps":175,"forks":3598},
      {"wtps":182,"forks":347},{"wtps":181,"forks":679},{"wtps":183,"forks":1069},{"wtps":182,"forks":1517},{"wtps":181,"forks":2095},{"wtps":183,"forks":3034},
      {"wtps":191,"forks":480},{"wtps":190,"forks":820},{"wtps":192,"forks":1240},{"wtps":191,"forks":1900},{"wtps":190,"forks":2900},
      {"wtps":200,"forks":380},{"wtps":199,"forks":700},{"wtps":201,"forks":1150},{"wtps":200,"forks":1700},{"wtps":199,"forks":3300},
      {"wtps":209,"forks":560},{"wtps":208,"forks":950},{"wtps":210,"forks":1400},{"wtps":209,"forks":2200},{"wtps":208,"forks":4100},
      {"wtps":219,"forks":420},{"wtps":218,"forks":780},{"wtps":220,"forks":1300},{"wtps":219,"forks":1950},{"wtps":218,"forks":3000},
      {"wtps":229,"forks":600},{"wtps":228,"forks":1050},{"wtps":230,"forks":1600},{"wtps":229,"forks":2500},{"wtps":228,"forks":3700},
      {"wtps":240,"forks":470},{"wtps":239,"forks":880},{"wtps":241,"forks":1400},{"wtps":240,"forks":2100},{"wtps":239,"forks":4400},
      {"wtps":251,"forks":650},{"wtps":250,"forks":1200},{"wtps":252,"forks":1900},{"wtps":251,"forks":3100},
      {"wtps":263,"forks":520},{"wtps":262,"forks":980},{"wtps":264,"forks":1700},{"wtps":263,"forks":2600},
      {"wtps":275,"forks":720},{"wtps":274,"forks":1350},{"wtps":276,"forks":2250},{"wtps":275,"forks":3600},
      {"wtps":288,"forks":580},{"wtps":287,"forks":1100},{"wtps":289,"forks":1900},{"wtps":288,"forks":2900},
      {"wtps":302,"forks":800},{"wtps":301,"forks":1500},{"wtps":303,"forks":2500},{"wtps":302,"forks":4000},
      {"wtps":316,"forks":1000},{"wtps":317,"forks":1800},{"wtps":315,"forks":2800},
      {"wtps":331,"forks":700},{"wtps":332,"forks":1400},{"wtps":330,"forks":3200},
      {"wtps":347,"forks":1200},{"wtps":348,"forks":2100},
      {"wtps":10.7,"forks":23},{"wtps":10.8,"forks":47},{"wtps":10.7,"forks":72},{"wtps":10.6,"forks":114},{"wtps":10.7,"forks":166},{"wtps":10.8,"forks":259},
      {"wtps":11.7,"forks":34},{"wtps":11.8,"forks":62},{"wtps":11.7,"forks":96},{"wtps":11.6,"forks":147},{"wtps":11.7,"forks":225},{"wtps":11.8,"forks":16.9},
      {"wtps":12.9,"forks":27},{"wtps":13.0,"forks":55},{"wtps":12.9,"forks":86},{"wtps":12.8,"forks":135},{"wtps":12.9,"forks":196},{"wtps":13.0,"forks":307},
      {"wtps":14.1,"forks":40},{"wtps":14.2,"forks":74},{"wtps":14.1,"forks":114},{"wtps":14.0,"forks":174},{"wtps":14.1,"forks":267},{"wtps":14.2,"forks":20},
      {"wtps":15.5,"forks":32},{"wtps":15.6,"forks":66},{"wtps":15.5,"forks":102},{"wtps":15.4,"forks":160},{"wtps":15.5,"forks":233},{"wtps":15.6,"forks":364},
      {"wtps":17.0,"forks":48},{"wtps":17.1,"forks":87},{"wtps":17.0,"forks":135},{"wtps":16.9,"forks":206},{"wtps":17.0,"forks":317},{"wtps":17.1,"forks":23.8},
      {"wtps":18.6,"forks":38},{"wtps":18.7,"forks":78},{"wtps":18.6,"forks":121},{"wtps":18.5,"forks":190},{"wtps":18.6,"forks":276},{"wtps":18.7,"forks":432},
      {"wtps":20.4,"forks":56},{"wtps":20.5,"forks":104},{"wtps":20.4,"forks":160},{"wtps":20.3,"forks":245},{"wtps":20.4,"forks":376},{"wtps":20.5,"forks":28},
      {"wtps":22.4,"forks":45},{"wtps":22.5,"forks":92},{"wtps":22.4,"forks":144},{"wtps":22.3,"forks":226},{"wtps":22.4,"forks":328},{"wtps":22.5,"forks":513},
      {"wtps":24.5,"forks":67},{"wtps":24.6,"forks":123},{"wtps":24.5,"forks":190},{"wtps":24.4,"forks":290},{"wtps":24.5,"forks":446},{"wtps":24.6,"forks":33},
      {"wtps":26.9,"forks":53},{"wtps":27.0,"forks":109},{"wtps":26.9,"forks":170},{"wtps":26.8,"forks":267},{"wtps":26.9,"forks":389},{"wtps":27.0,"forks":608},
      {"wtps":29.5,"forks":80},{"wtps":29.6,"forks":146},{"wtps":29.5,"forks":225},{"wtps":29.4,"forks":345},{"wtps":29.5,"forks":530},{"wtps":29.6,"forks":40},
      {"wtps":32.4,"forks":64},{"wtps":32.5,"forks":130},{"wtps":32.4,"forks":202},{"wtps":32.3,"forks":318},{"wtps":32.4,"forks":462},{"wtps":32.5,"forks":723},
      {"wtps":35.5,"forks":94},{"wtps":35.6,"forks":173},{"wtps":35.5,"forks":267},{"wtps":35.4,"forks":408},{"wtps":35.5,"forks":628},{"wtps":35.6,"forks":47},
      {"wtps":38.9,"forks":75},{"wtps":39.0,"forks":154},{"wtps":38.9,"forks":239},{"wtps":38.8,"forks":376},{"wtps":38.9,"forks":547},{"wtps":39.0,"forks":855},
      {"wtps":42.7,"forks":112},{"wtps":42.8,"forks":205},{"wtps":42.7,"forks":317},{"wtps":42.6,"forks":485},{"wtps":42.7,"forks":746},{"wtps":42.8,"forks":56},
      {"wtps":46.8,"forks":89},{"wtps":46.9,"forks":183},{"wtps":46.8,"forks":284},{"wtps":46.7,"forks":447},{"wtps":46.8,"forks":650},{"wtps":46.9,"forks":1015},
      {"wtps":51.3,"forks":133},{"wtps":51.4,"forks":243},{"wtps":51.3,"forks":376},{"wtps":51.2,"forks":575},{"wtps":51.3,"forks":884},{"wtps":51.4,"forks":66},
      {"wtps":56.2,"forks":106},{"wtps":56.3,"forks":217},{"wtps":56.2,"forks":337},{"wtps":56.1,"forks":530},{"wtps":56.2,"forks":771},{"wtps":56.3,"forks":1205},
      {"wtps":61.7,"forks":158},{"wtps":61.8,"forks":289},{"wtps":61.7,"forks":446},{"wtps":61.6,"forks":683},{"wtps":61.7,"forks":1050},{"wtps":61.8,"forks":79},
      {"wtps":67.6,"forks":126},{"wtps":67.7,"forks":257},{"wtps":67.6,"forks":400},{"wtps":67.5,"forks":629},{"wtps":67.6,"forks":915},{"wtps":67.7,"forks":1430},
      {"wtps":74.1,"forks":187},{"wtps":74.2,"forks":343},{"wtps":74.1,"forks":530},{"wtps":74.0,"forks":810},{"wtps":74.1,"forks":1246},{"wtps":74.2,"forks":93},
      {"wtps":81.3,"forks":149},{"wtps":81.4,"forks":305},{"wtps":81.3,"forks":475},{"wtps":81.2,"forks":746},{"wtps":81.3,"forks":1085},{"wtps":81.4,"forks":1695},
      {"wtps":89.1,"forks":222},{"wtps":89.2,"forks":406},{"wtps":89.1,"forks":628},{"wtps":89.0,"forks":961},{"wtps":89.1,"forks":1478},{"wtps":89.2,"forks":111},
      {"wtps":97.7,"forks":177},{"wtps":97.8,"forks":362},{"wtps":97.7,"forks":564},{"wtps":97.6,"forks":886},{"wtps":97.7,"forks":1288},{"wtps":97.8,"forks":2013},
      {"wtps":16.3,"forks":3590},{"wtps":15.8,"forks":1590},{"wtps":31.3,"forks":6900},{"wtps":30.6,"forks":1770},{"wtps":34.0,"forks":1830},{"wtps":45.6,"forks":2740},{"wtps":49.8,"forks":2250},{"wtps":58.2,"forks":3030},{"wtps":68.4,"forks":3740},{"wtps":40.5,"forks":2030},{"wtps":44.7,"forks":1940},{"wtps":16.7,"forks":1050},{"wtps":20.0,"forks":1005},{"wtps":24.9,"forks":1460},{"wtps":27.4,"forks":1310},{"wtps":29.8,"forks":1310},{"wtps":10.0,"forks":1000},{"wtps":12.3,"forks":840},{"wtps":15.2,"forks":767},{"wtps":11.6,"forks":713},{"wtps":13.4,"forks":710},
      {"wtps":10.1,"forks":14.3},{"wtps":10.4,"forks":12.1},{"wtps":10.8,"forks":15.2},{"wtps":11.2,"forks":17.3},{"wtps":12.0,"forks":14.3},{"wtps":12.5,"forks":11.3},{"wtps":12.8,"forks":11.3},{"wtps":13.1,"forks":15.4},{"wtps":14.2,"forks":12.3},{"wtps":15.1,"forks":10.2},{"wtps":15.9,"forks":17.3},{"wtps":16.9,"forks":14.3},{"wtps":18.0,"forks":19.3},{"wtps":20.6,"forks":19.5},{"wtps":21.9,"forks":14.3},{"wtps":22.4,"forks":11.3},{"wtps":23.4,"forks":12.3},{"wtps":23.7,"forks":14.3},{"wtps":23.9,"forks":18.2},{"wtps":24.2,"forks":20.5},{"wtps":24.4,"forks":12.3},{"wtps":24.6,"forks":25.3},{"wtps":24.8,"forks":30.3},{"wtps":15.1,"forks":25.3},{"wtps":14.4,"forks":23.1},{"wtps":12.8,"forks":22.4},{"wtps":13.4,"forks":19.3},{"wtps":11.6,"forks":21.8},{"wtps":10.4,"forks":19.9},{"wtps":28.1,"forks":17.3},{"wtps":39.2,"forks":17.3},{"wtps":49.7,"forks":15.2},{"wtps":50.8,"forks":24.5},{"wtps":36.8,"forks":24.5},{"wtps":30.9,"forks":23.4},{"wtps":30.1,"forks":21.1},{"wtps":27.4,"forks":21.4},{"wtps":45.2,"forks":39.6},{"wtps":60.7,"forks":36.6},{"wtps":63.4,"forks":33.7},{"wtps":39.0,"forks":33.5},{"wtps":41.9,"forks":53.5},{"wtps":54.0,"forks":56.8},{"wtps":76.4,"forks":28.5},{"wtps":79.6,"forks":40.8},{"wtps":82.4,"forks":50.4},
      {"wtps":153,"forks":7910},{"wtps":228,"forks":7670},{"wtps":267,"forks":7360},{"wtps":299,"forks":6610},{"wtps":101,"forks":6340},{"wtps":189,"forks":6530},{"wtps":222,"forks":5940},{"wtps":315,"forks":6340},{"wtps":242,"forks":6490},{"wtps":248,"forks":6200},{"wtps":171,"forks":5360},{"wtps":161,"forks":5520},{"wtps":111,"forks":4990},{"wtps":131,"forks":5120},{"wtps":136,"forks":4960},{"wtps":146,"forks":4900},{"wtps":97.8,"forks":4170},{"wtps":120,"forks":4220},{"wtps":122,"forks":4100},{"wtps":139,"forks":4100},{"wtps":140,"forks":3420},{"wtps":265,"forks":5200},{"wtps":344,"forks":4750},{"wtps":365,"forks":4750},{"wtps":320,"forks":3850},{"wtps":334,"forks":3970},{"wtps":345,"forks":3900},{"wtps":408,"forks":3520},{"wtps":565,"forks":2690},{"wtps":573,"forks":2610},{"wtps":570,"forks":2150},{"wtps":622,"forks":1770},{"wtps":566,"forks":1240},{"wtps":479,"forks":2610},{"wtps":445,"forks":3280},{"wtps":397,"forks":2430},{"wtps":462,"forks":1440},{"wtps":418,"forks":1110},{"wtps":445,"forks":1050},{"wtps":382,"forks":1150},{"wtps":358,"forks":2060},{"wtps":363,"forks":701},{"wtps":348,"forks":520},{"wtps":325,"forks":481},{"wtps":347,"forks":1170},{"wtps":334,"forks":1130},{"wtps":318,"forks":1440},{"wtps":301,"forks":1040},{"wtps":288,"forks":701},{"wtps":290,"forks":390},{"wtps":310,"forks":385},{"wtps":301,"forks":225},{"wtps":289,"forks":232},{"wtps":267,"forks":214},{"wtps":237,"forks":177},{"wtps":242,"forks":266},{"wtps":232,"forks":254},{"wtps":208,"forks":129},{"wtps":198,"forks":102},{"wtps":182,"forks":81},{"wtps":177,"forks":37.8},{"wtps":163,"forks":62.8},{"wtps":155,"forks":50.4},{"wtps":162,"forks":48},{"wtps":142,"forks":44.2},{"wtps":146,"forks":45.2},{"wtps":143,"forks":38.5},{"wtps":137,"forks":67.9},{"wtps":169,"forks":75.7},{"wtps":166,"forks":87.3},{"wtps":156,"forks":86.3},{"wtps":127,"forks":104},{"wtps":127,"forks":124},{"wtps":116,"forks":97},{"wtps":108,"forks":88},{"wtps":104,"forks":80},{"wtps":99.1,"forks":49.8},{"wtps":111,"forks":77.4},{"wtps":89,"forks":74},{"wtps":97.7,"forks":98.4}
    ],
    "starsFit": [{"wtps": 10, "fit": 262}, {"wtps": 620, "fit": 7190}],
    "forksFit": [{"wtps": 10, "fit": 97}, {"wtps": 624, "fit": 4540}],
    "starsNote": [{"x1": 130.3, "x2": 951, "y1": 13.1, "y2": 37.7, "xt": 912, "yt": 22.2, "label": "Correlation Coefficient =", "value": "0.925"}],
    "forksNote": [{"x1": 127.7, "x2": 918, "y1": 13.2, "y2": 32.7, "xt": 883, "yt": 20.8, "label": "Correlation Coefficient =", "value": "0.726"}]
  },
  "spacing": 76,
  "vconcat": [
    {
      "width": 1553,
      "height": 531,
      "resolve": {"axis": {"x": "independent", "y": "independent"}},
      "layer": [
        {
          "data": {"name": "stars"},
          "mark": {"type": "point", "shape": "circle", "filled": false, "color": "#a8a192", "strokeWidth": 1.4, "size": 58, "opacity": 1, "clip": true},
          "encoding": {
            "x": {"field": "wtps", "type": "quantitative", "scale": {"type": "log", "domain": [10, 1000], "nice": false},
              "axis": {"orient": "bottom", "values": [20,30,40,50,60,70,80,90,100,200,300,400,500,600,700,800,900], "labels": false, "title": null, "grid": true,
                "gridColor": {"condition": {"test": "datum.value == 100", "value": "#d6d6d6"}, "value": "#c6c6c6"},
                "gridDash": {"condition": {"test": "datum.value == 100", "value": []}, "value": [2, 3]},
                "gridWidth": {"condition": {"test": "datum.value == 100", "value": 1.5}, "value": 1},
                "ticks": true, "tickColor": "black", "tickWidth": 1.2,
                "tickSize": {"condition": {"test": "datum.value == 100", "value": -9}, "value": -5}}},
            "y": {"field": "stars", "type": "quantitative", "scale": {"type": "log", "domain": [10, 30000], "nice": false},
              "axis": {"orient": "left", "values": [18.27,25.99,33.38,40.52,47.48,54.29,60.98,67.55,74.02,135.2,192.4,247.1,299.9,351.4,401.9,451.4,500.0,547.9,1001,1424,1829,2220,2601,2975,3341,3701,4056,7410,10542,13539,16435,19258,22020,24734,27398], "labels": false, "title": null, "grid": true,
                "gridColor": {"condition": {"test": "datum.value == 74.02 || datum.value == 547.9 || datum.value == 4056", "value": "#d6d6d6"}, "value": "#c6c6c6"},
                "gridDash": {"condition": {"test": "datum.value == 74.02 || datum.value == 547.9 || datum.value == 4056", "value": []}, "value": [2, 3]},
                "gridWidth": {"condition": {"test": "datum.value == 74.02 || datum.value == 547.9 || datum.value == 4056", "value": 1.5}, "value": 1},
                "ticks": true, "tickColor": "black", "tickWidth": 1.2,
                "tickSize": {"condition": {"test": "datum.value == 74.02 || datum.value == 547.9 || datum.value == 4056", "value": -9}, "value": -5}}}
          }
        },
        {
          "data": {"name": "starsFit"},
          "mark": {"type": "line", "color": "#ff0000", "strokeWidth": 3.2, "clip": true},
          "encoding": {
            "x": {"field": "wtps", "type": "quantitative", "scale": {"type": "log", "domain": [10, 1000], "nice": false}, "axis": null},
            "y": {"field": "fit", "type": "quantitative", "scale": {"type": "log", "domain": [10, 30000], "nice": false},
              "axis": {"orient": "left", "values": [10, 100, 1000, 10000], "grid": false, "ticks": false, "labelPadding": 13,
                "labelExpr": "datum.value == 10 ? '10¹' : datum.value == 100 ? '10²' : datum.value == 1000 ? '10³' : '10⁴'",
                "labelOffset": {"condition": {"test": "datum.value == 10", "value": -9}, "value": 8},
                "title": "Stars", "titlePadding": 14}}
          }
        },
        {
          "data": {"name": "starsNote"},
          "mark": {"type": "rect", "fill": "white", "stroke": "black", "strokeWidth": 3},
          "encoding": {
            "x": {"field": "x1", "type": "quantitative", "scale": {"type": "log", "domain": [10, 1000], "nice": false},
              "axis": {"orient": "top", "values": [20,30,40,50,60,70,80,90,100,200,300,400,500,600,700,800,900], "labels": false, "title": null, "grid": false,
                "ticks": true, "tickColor": "black", "tickWidth": 1.2,
                "tickSize": {"condition": {"test": "datum.value == 100", "value": -9}, "value": -5}}},
            "x2": {"field": "x2"},
            "y": {"field": "y1", "type": "quantitative", "scale": {"type": "log", "domain": [10, 30000], "nice": false},
              "axis": {"orient": "right", "values": [18.27,25.99,33.38,40.52,47.48,54.29,60.98,67.55,74.02,135.2,192.4,247.1,299.9,351.4,401.9,451.4,500.0,547.9,1001,1424,1829,2220,2601,2975,3341,3701,4056,7410,10542,13539,16435,19258,22020,24734,27398], "labels": false, "title": null, "grid": false,
                "ticks": true, "tickColor": "black", "tickWidth": 1.2,
                "tickSize": {"condition": {"test": "datum.value == 74.02 || datum.value == 547.9 || datum.value == 4056", "value": -9}, "value": -5}}},
            "y2": {"field": "y2"}
          }
        },
        {
          "data": {"name": "starsNote"},
          "mark": {"type": "text", "align": "right", "baseline": "middle", "fontSize": 47, "dx": -131, "color": "black"},
          "encoding": {
            "x": {"field": "xt", "type": "quantitative", "scale": {"type": "log", "domain": [10, 1000], "nice": false}, "axis": null},
            "y": {"field": "yt", "type": "quantitative", "scale": {"type": "log", "domain": [10, 30000], "nice": false}, "axis": null},
            "text": {"field": "label"}
          }
        },
        {
          "data": {"name": "starsNote"},
          "mark": {"type": "text", "align": "right", "baseline": "middle", "fontSize": 47, "fontWeight": "bold", "color": "black"},
          "encoding": {
            "x": {"field": "xt", "type": "quantitative", "scale": {"type": "log", "domain": [10, 1000], "nice": false}, "axis": null},
            "y": {"field": "yt", "type": "quantitative", "scale": {"type": "log", "domain": [10, 30000], "nice": false}, "axis": null},
            "text": {"field": "value"}
          }
        }
      ]
    },
    {
      "width": 1564,
      "height": 524,
      "resolve": {"axis": {"x": "independent", "y": "independent"}},
      "layer": [
        {
          "data": {"name": "forks"},
          "mark": {"type": "point", "shape": "circle", "filled": false, "color": "#a8a192", "strokeWidth": 1.4, "size": 58, "opacity": 1, "clip": true},
          "encoding": {
            "x": {"field": "wtps", "type": "quantitative", "scale": {"type": "log", "domain": [10, 1000], "nice": false},
              "axis": {"orient": "bottom", "values": [20,30,40,50,60,70,80,90,100,200,300,400,500,600,700,800,900], "labels": false, "title": null, "grid": true,
                "gridColor": {"condition": {"test": "datum.value == 100", "value": "#d6d6d6"}, "value": "#c6c6c6"},
                "gridDash": {"condition": {"test": "datum.value == 100", "value": []}, "value": [2, 3]},
                "gridWidth": {"condition": {"test": "datum.value == 100", "value": 1.5}, "value": 1},
                "ticks": true, "tickColor": "black", "tickWidth": 1.2,
                "tickSize": {"condition": {"test": "datum.value == 100", "value": -9}, "value": -5}}},
            "y": {"field": "forks", "type": "quantitative", "scale": {"type": "log", "domain": [10, 10000], "nice": false},
              "axis": {"orient": "left", "values": [20,30,40,50,60,70,80,90,100,200,300,400,500,600,700,800,900,1000,2000,3000,4000,5000,6000,7000,8000,9000], "labels": false, "title": null, "grid": true,
                "gridColor": {"condition": {"test": "datum.value == 100 || datum.value == 1000", "value": "#d6d6d6"}, "value": "#c6c6c6"},
                "gridDash": {"condition": {"test": "datum.value == 100 || datum.value == 1000", "value": []}, "value": [2, 3]},
                "gridWidth": {"condition": {"test": "datum.value == 100 || datum.value == 1000", "value": 1.5}, "value": 1},
                "ticks": true, "tickColor": "black", "tickWidth": 1.2,
                "tickSize": {"condition": {"test": "datum.value == 100 || datum.value == 1000", "value": -9}, "value": -5}}}
          }
        },
        {
          "data": {"name": "forksFit"},
          "mark": {"type": "line", "color": "#ff0000", "strokeWidth": 3.2, "clip": true},
          "encoding": {
            "x": {"field": "wtps", "type": "quantitative", "scale": {"type": "log", "domain": [10, 1000], "nice": false},
              "axis": {"orient": "bottom", "values": [10, 100, 1000], "grid": false, "ticks": false, "labelPadding": 34, "labelFlush": false,
                "labelExpr": "datum.value == 10 ? '10¹' : datum.value == 100 ? '10²' : '10³'",
                "title": "WTPS ( t = 1 month )", "titlePadding": 26, "titleX": 695}},
            "y": {"field": "fit", "type": "quantitative", "scale": {"type": "log", "domain": [10, 10000], "nice": false},
              "axis": {"orient": "left", "values": [10, 100, 1000, 10000], "grid": false, "ticks": false, "labelPadding": 13,
                "labelExpr": "datum.value == 10 ? '10¹' : datum.value == 100 ? '10²' : datum.value == 1000 ? '10³' : '10⁴'",
                "labelOffset": {"condition": [{"test": "datum.value == 10", "value": -12}, {"test": "datum.value == 10000", "value": 31}], "value": 8},
                "title": "Forks", "titlePadding": 14}}
          }
        },
        {
          "data": {"name": "forksNote"},
          "mark": {"type": "rect", "fill": "white", "stroke": "black", "strokeWidth": 3},
          "encoding": {
            "x": {"field": "x1", "type": "quantitative", "scale": {"type": "log", "domain": [10, 1000], "nice": false},
              "axis": {"orient": "top", "values": [20,30,40,50,60,70,80,90,100,200,300,400,500,600,700,800,900], "labels": false, "title": null, "grid": false,
                "ticks": true, "tickColor": "black", "tickWidth": 1.2,
                "tickSize": {"condition": {"test": "datum.value == 100", "value": -9}, "value": -5}}},
            "x2": {"field": "x2"},
            "y": {"field": "y1", "type": "quantitative", "scale": {"type": "log", "domain": [10, 10000], "nice": false},
              "axis": {"orient": "right", "values": [20,30,40,50,60,70,80,90,100,200,300,400,500,600,700,800,900,1000,2000,3000,4000,5000,6000,7000,8000,9000], "labels": false, "title": null, "grid": false,
                "ticks": true, "tickColor": "black", "tickWidth": 1.2,
                "tickSize": {"condition": {"test": "datum.value == 100 || datum.value == 1000", "value": -9}, "value": -5}}},
            "y2": {"field": "y2"}
          }
        },
        {
          "data": {"name": "forksNote"},
          "mark": {"type": "text", "align": "right", "baseline": "middle", "fontSize": 47, "dx": -131, "color": "black"},
          "encoding": {
            "x": {"field": "xt", "type": "quantitative", "scale": {"type": "log", "domain": [10, 1000], "nice": false}, "axis": null},
            "y": {"field": "yt", "type": "quantitative", "scale": {"type": "log", "domain": [10, 10000], "nice": false}, "axis": null},
            "text": {"field": "label"}
          }
        },
        {
          "data": {"name": "forksNote"},
          "mark": {"type": "text", "align": "right", "baseline": "middle", "fontSize": 47, "fontWeight": "bold", "color": "black"},
          "encoding": {
            "x": {"field": "xt", "type": "quantitative", "scale": {"type": "log", "domain": [10, 1000], "nice": false}, "axis": null},
            "y": {"field": "yt", "type": "quantitative", "scale": {"type": "log", "domain": [10, 10000], "nice": false}, "axis": null},
            "text": {"field": "value"}
          }
        }
      ]
    }
  ]
}
